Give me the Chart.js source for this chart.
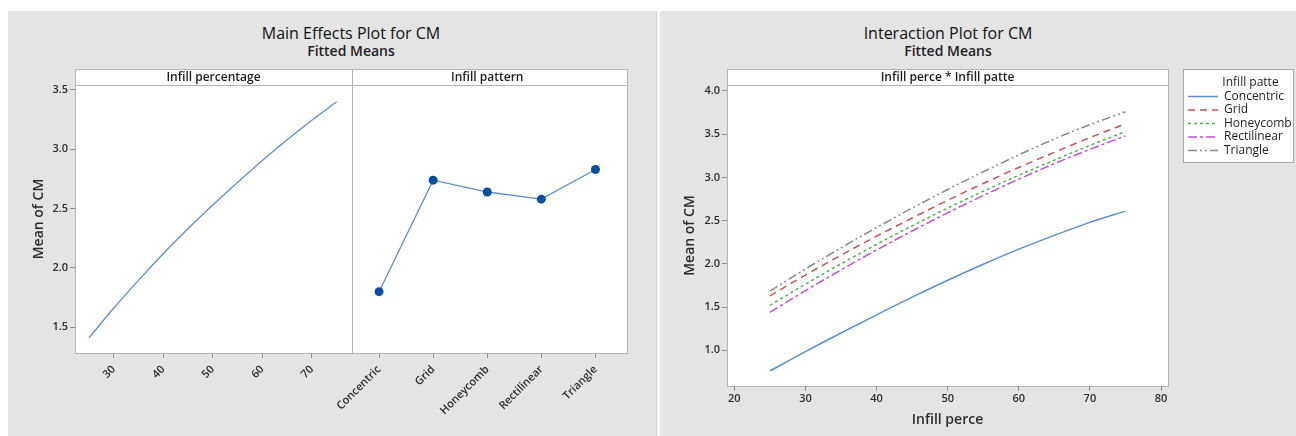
<!DOCTYPE html>
<html><head><meta charset="utf-8">
<script src="https://cdn.jsdelivr.net/npm/chart.js@4.4.1/dist/chart.umd.min.js"></script>
<style>
html,body{margin:0;padding:0;background:#fff;width:1296px;height:436px;overflow:hidden;font-family:'Open Sans',sans-serif;}
.panel{position:absolute;background:#e4e4e4;}
.box{position:absolute;background:#fff;border:1px solid #b4b4b4;box-sizing:border-box;}
.vline{position:absolute;width:1px;background:#b4b4b4;}
.t1{position:absolute;font-size:16px;font-weight:500;color:#111;line-height:20px;text-align:center;white-space:nowrap;}
.t2{position:absolute;font-size:14px;font-weight:600;color:#1e1e1e;line-height:18px;text-align:center;white-space:nowrap;}
canvas{position:absolute;}
</style></head>
<body>
<div class="panel" style="left:8px;top:11px;width:648px;height:425px;border-right:1px solid #cfcfcf"></div>
<div class="panel" style="left:660px;top:11px;width:636px;height:425px"></div>
<div class="t1" style="left:151px;width:400px;top:23px">Main Effects Plot for CM</div>
<div class="t2" style="left:151px;width:400px;top:42px">Fitted Means</div>
<div class="t1" style="left:748px;width:400px;top:23px">Interaction Plot for CM</div>
<div class="t2" style="left:748px;width:400px;top:42px">Fitted Means</div>
<div class="box" style="left:75px;top:69px;width:553px;height:17px"></div>
<div class="box" style="left:75px;top:85px;width:553px;height:269px"></div>
<div class="vline" style="left:352px;top:69px;height:285px"></div>
<div class="box" style="left:727px;top:69px;width:442px;height:17px"></div>
<div class="box" style="left:727px;top:85px;width:442px;height:302px"></div>
<canvas id="cA" width="344" height="367" style="left:8px;top:69px"></canvas>
<canvas id="cB" width="327" height="367" style="left:300px;top:69px"></canvas>
<canvas id="cC" width="636" height="367" style="left:660px;top:69px"></canvas>
<script>
// ---- data ----
const infillPct = [25, 30, 35, 40, 45, 50, 55, 60, 65, 70, 75];
const mainInfillMeans = [1.41, 1.66, 1.895, 2.12, 2.33, 2.53, 2.72, 2.905, 3.08, 3.245, 3.40];
const patterns = ['Concentric', 'Grid', 'Honeycomb', 'Rectilinear', 'Triangle'];
const mainPatternMeans = [1.80, 2.74, 2.64, 2.58, 2.83];
const concentricCM = [0.76, 0.985, 1.20, 1.41, 1.615, 1.81, 1.995, 2.17, 2.33, 2.48, 2.61];
const gridCM = [1.63, 1.87, 2.10, 2.32, 2.53, 2.735, 2.93, 3.115, 3.29, 3.46, 3.62];
const honeycombCM = [1.52, 1.765, 2.00, 2.225, 2.44, 2.645, 2.84, 3.025, 3.20, 3.37, 3.53];
const rectilinearCM = [1.44, 1.69, 1.93, 2.16, 2.38, 2.59, 2.79, 2.98, 3.16, 3.325, 3.48];
const triangleCM = [1.685, 1.94, 2.185, 2.42, 2.645, 2.86, 3.065, 3.26, 3.445, 3.61, 3.76];
const mainYTicks = [1.5, 2.0, 2.5, 3.0, 3.5];
const mainXTicks = [30, 40, 50, 60, 70];
const interYTicks = [1.0, 1.5, 2.0, 2.5, 3.0, 3.5, 4.0];
const interXTicks = [20, 30, 40, 50, 60, 70, 80];

// ---- styling helpers ----
Chart.defaults.font.family = "'Open Sans', sans-serif";
Chart.defaults.color = '#2b2b2b';
const tickFont = {size: 11, weight: '600'};
const stripFont = {size: 12, weight: '600', lineHeight: 1.2};
const axisTitleFont = {size: 14, weight: '600', lineHeight: 1.2};
const gridTicks = {display: true, drawOnChartArea: false, drawTicks: true, tickLength: 5, color: '#8f8f8f'};
function fixTicks(values) { return s => { s.ticks = values.map(v => ({value: v})); }; }
function fixSize(prop, size) {
  return s => { if (size != null) s[prop] = size; s.paddingLeft = 0; s.paddingRight = 0; s.paddingTop = 0; s.paddingBottom = 0; };
}
const xy = (xs, ys) => xs.map((x, i) => ({x: x, y: ys[i]}));
const stripTitle = text => ({display: true, text: text, fullSize: false, font: stripFont, padding: {top: 1, bottom: 0.6}, color: '#1e1e1e'});
const base = {responsive: false, animation: false, events: []};

// ---- Main effects: Infill percentage ----
new Chart(document.getElementById('cA'), {
  type: 'line',
  data: {datasets: [{label: 'Infill percentage', data: xy(infillPct, mainInfillMeans),
    borderColor: '#5b8fd4', borderWidth: 1.3, pointRadius: 0, tension: 0.4, cubicInterpolationMode: 'monotone'}]},
  options: Object.assign({}, base, {
    layout: {padding: 0},
    plugins: {legend: {display: false}, tooltip: {enabled: false}, title: stripTitle('Infill percentage')},
    scales: {
      x: {type: 'linear', min: 22.2, max: 78.1, afterBuildTicks: fixTicks(mainXTicks), afterFit: fixSize('height', 83),
        ticks: {font: tickFont, minRotation: 45, maxRotation: 45, autoSkip: false, padding: 5, callback: v => String(v)},
        grid: gridTicks, border: {display: false}},
      y: {type: 'linear', min: 1.283, max: 3.542, afterBuildTicks: fixTicks(mainYTicks), afterFit: fixSize('width', 67),
        ticks: {font: tickFont, padding: 2, callback: v => v.toFixed(1)}, grid: gridTicks, border: {display: false},
        title: {display: true, text: 'Mean of CM', font: axisTitleFont, padding: {top: 23, bottom: 0}, color: '#2b2b2b'}}
    }
  })
});

// ---- Main effects: Infill pattern ----
new Chart(document.getElementById('cB'), {
  type: 'line',
  data: {labels: patterns, datasets: [{label: 'Infill pattern', data: mainPatternMeans,
    borderColor: '#5b8fd4', borderWidth: 1.3, pointRadius: 4.5, pointBackgroundColor: '#0b4fa0',
    pointBorderColor: '#0b4fa0', pointBorderWidth: 0, tension: 0}]},
  options: Object.assign({}, base, {
    layout: {padding: {left: 52, right: 0, top: 0, bottom: 0}},
    plugins: {legend: {display: false}, tooltip: {enabled: false}, title: stripTitle('Infill pattern')},
    scales: {
      x: {type: 'category', offset: true, afterFit: fixSize('height', 83),
        ticks: {font: tickFont, minRotation: 45, maxRotation: 45, autoSkip: false, padding: 5},
        grid: Object.assign({}, gridTicks, {offset: false}), border: {display: false}},
      y: {type: 'linear', display: false, min: 1.283, max: 3.542}
    }
  })
});

// ---- Interaction plot ----
const legendFrame = {
  id: 'legendFrame',
  afterInit(chart) {
    const lg = chart.legend;
    const fit = lg.fit;
    lg.fit = function () { fit.call(this); this.width = 128; };
  },
  afterLayout(chart) {
    const lg = chart.legend;
    lg.left += 18.5; lg.right += 18.5;
  },
  beforeDraw(chart) {
    const lg = chart.legend;
    const hb = lg.legendHitBoxes;
    if (!hb || !hb.length) return;
    const last = hb[hb.length - 1];
    const ctx = chart.ctx;
    const x0 = Math.round(lg.left - 3.5) + 0.5, y0 = Math.round(lg.top) + 0.5;
    const x1 = chart.width - 2.5, y1 = Math.round(last.top + last.height + 5) + 0.5;
    ctx.save();
    ctx.fillStyle = '#ffffff';
    ctx.fillRect(x0, y0, x1 - x0, y1 - y0);
    ctx.strokeStyle = '#a8a8a8'; ctx.lineWidth = 1;
    ctx.strokeRect(x0, y0, x1 - x0, y1 - y0);
    ctx.restore();
  }
};
const lineDs = (label, ys, color, dash) => ({label: label, data: xy(infillPct, ys), borderColor: color,
  backgroundColor: color, borderWidth: 1.5, borderDash: dash, pointRadius: 0, tension: 0.4, cubicInterpolationMode: 'monotone'});
new Chart(document.getElementById('cC'), {
  type: 'line',
  data: {datasets: [
    lineDs(patterns[0], concentricCM, '#5b8fd4', []),
    lineDs(patterns[1], gridCM, '#c9524f', [7, 5]),
    lineDs(patterns[2], honeycombCM, '#4db34f', [3, 3]),
    lineDs(patterns[3], rectilinearCM, '#c44ee0', [9, 3, 3, 3]),
    lineDs(patterns[4], triangleCM, '#8a8a8a', [9, 3, 2, 3, 2, 3])
  ]},
  plugins: [legendFrame],
  options: Object.assign({}, base, {
    layout: {padding: 0},
    plugins: {
      tooltip: {enabled: false},
      title: stripTitle('Infill perce * Infill patte'),
      legend: {display: true, position: 'right', align: 'start',
        title: {display: true, text: 'Infill patte', color: '#1e1e1e', font: {size: 12, weight: '400', lineHeight: 1}, padding: {top: 8, bottom: 0}},
        labels: {usePointStyle: true, pointStyle: 'line', pointStyleWidth: 30, padding: 1.5, color: '#1e1e1e', font: {size: 12},
          generateLabels(chart) {
            const items = Chart.defaults.plugins.legend.labels.generateLabels(chart);
            items.forEach(it => {
              const ds = chart.data.datasets[it.datasetIndex];
              it.lineDash = ds.borderDash || [];
              it.lineWidth = ds.borderWidth;
              it.strokeStyle = ds.borderColor;
              it.pointStyle = 'line';
            });
            return items;
          }}}
    },
    scales: {
      x: {type: 'linear', min: 18.97, max: 80.98, afterBuildTicks: fixTicks(interXTicks), afterFit: fixSize('height', 50),
        ticks: {font: tickFont, maxRotation: 0, autoSkip: false, padding: 1, callback: v => String(v)},
        grid: gridTicks, border: {display: false},
        title: {display: true, text: 'Infill perce', font: axisTitleFont, padding: {top: 0, bottom: 7.6}, color: '#2b2b2b'}},
      y: {type: 'linear', min: 0.587, max: 4.069, afterBuildTicks: fixTicks(interYTicks), afterFit: fixSize('width', 67),
        ticks: {font: tickFont, padding: 2, callback: v => v.toFixed(1)}, grid: gridTicks, border: {display: false},
        title: {display: true, text: 'Mean of CM', font: axisTitleFont, padding: {top: 21.6, bottom: 0}, color: '#2b2b2b'}}
    }
  })
});
</script>
</body></html>
